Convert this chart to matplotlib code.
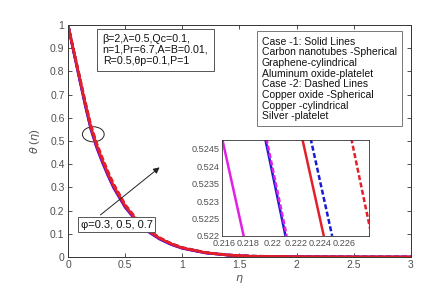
import matplotlib
matplotlib.use("Agg")
import matplotlib.pyplot as plt
from matplotlib.patches import Ellipse
from matplotlib.ticker import FuncFormatter

# ---- data ----
eta = [0, 0.05, 0.1, 0.15, 0.2, 0.25, 0.3, 0.35, 0.4, 0.5, 0.6, 0.7, 0.8, 0.9,
       1.0, 1.2, 1.4, 1.6, 2.0, 2.5, 3.0]

theta_cnt_sph = [1, 0.882, 0.767, 0.653, 0.549, 0.471, 0.407, 0.349, 0.296, 0.213, 0.153,
                 0.109, 0.077, 0.054, 0.037, 0.018, 0.008, 0.003, 0.001, 0.0002, 0]
theta_gr_cyl = [1, 0.884, 0.770, 0.657, 0.553, 0.476, 0.412, 0.353, 0.300, 0.216, 0.156,
                0.111, 0.079, 0.055, 0.038, 0.018, 0.008, 0.003, 0.001, 0.0002, 0]
theta_al_plt = [1, 0.886, 0.775, 0.663, 0.559, 0.482, 0.418, 0.359, 0.305, 0.220, 0.159,
                0.114, 0.081, 0.057, 0.039, 0.019, 0.008, 0.003, 0.001, 0.0002, 0]
theta_cuo_sph = [1, 0.884, 0.771, 0.658, 0.554, 0.477, 0.413, 0.354, 0.301, 0.217, 0.156,
                 0.112, 0.079, 0.055, 0.038, 0.018, 0.008, 0.003, 0.001, 0.0002, 0]
theta_cu_cyl = [1, 0.887, 0.776, 0.665, 0.561, 0.484, 0.420, 0.361, 0.307, 0.221, 0.160,
                0.115, 0.081, 0.057, 0.040, 0.019, 0.009, 0.004, 0.001, 0.0002, 0]
theta_ag_plt = [1, 0.890, 0.782, 0.672, 0.568, 0.492, 0.428, 0.368, 0.314, 0.226, 0.164,
                0.118, 0.084, 0.059, 0.041, 0.020, 0.009, 0.004, 0.001, 0.0002, 0]

# inset (zoomed) segments: eta where each curve crosses theta values below
inset_theta = [0.5248, 0.5220]
inset_cnt_sph = [0.2158, 0.2176]
inset_gr_cyl = [0.2194, 0.2211]
inset_cuo_sph = [0.2195, 0.2212]
inset_al_plt = [0.2225, 0.2243]
inset_cu_cyl = [0.2232, 0.2250]
inset_ag_plt = [0.2266, 0.2283]

x_ticks = [0, 0.5, 1, 1.5, 2, 2.5, 3]
y_ticks = [0, 0.1, 0.2, 0.3, 0.4, 0.5, 0.6, 0.7, 0.8, 0.9, 1]
inset_x_ticks = [0.216, 0.218, 0.22, 0.222, 0.224, 0.226]
inset_y_ticks = [0.522, 0.5225, 0.523, 0.5235, 0.524, 0.5245]

params_text = "β=2,λ=0.5,Qc=0.1,\nn=1,Pr=6.7,A=B=0.01,\nR=0.5,θp=0.1,P=1"
legend_lines = ["Case -1: Solid Lines", "Carbon nanotubes -Spherical",
                "Graphene-cylindrical", "Aluminum oxide-platelet",
                "Case -2: Dashed Lines", "Copper oxide -Spherical",
                "Copper -cylindrical", "Silver -platelet"]
phi_text = "φ=0.3, 0.5, 0.7"

RED = "#e3202a"
BLUE = "#1a1ad0"
MAG = "#e020e6"
GRAY = "#333333"
TXT = "#505050"

plt.rcParams['font.family'] = ['Liberation Sans', 'DejaVu Sans']
fmt = FuncFormatter(lambda v, p: f"{v:g}")

fig = plt.figure(figsize=(4.39, 3.02), dpi=100)
ax = fig.add_axes([0.155, 0.149, 0.781, 0.768])

series = [
    (theta_cnt_sph, MAG, '-'), (theta_cuo_sph, MAG, '--'),
    (theta_gr_cyl, BLUE, '-'), (theta_cu_cyl, BLUE, '--'),
    (theta_ag_plt, RED, '--'), (theta_al_plt, RED, '-'),
]
for th, c, ls in series:
    if ls == '--':
        ax.plot(eta, th, color=c, lw=1.9, dashes=(2, 1))
    else:
        ax.plot(eta, th, color=c, lw=1.9)

ax.set_xlim(0, 3)
ax.set_ylim(0, 1)
ax.set_xticks(x_ticks)
ax.set_yticks(y_ticks)
ax.xaxis.set_major_formatter(fmt)
ax.yaxis.set_major_formatter(fmt)
ax.tick_params(direction='in', top=True, right=True, labelsize=7.5, labelcolor=TXT,
               color=GRAY, length=3, width=0.6, pad=2.5)
for s in ax.spines.values():
    s.set_color(GRAY)
    s.set_linewidth(0.7)
ax.set_xlabel(r"$\eta$", fontsize=8, color=TXT, labelpad=2)
ax.set_ylabel(r"$\theta$ ($\eta$)", fontsize=8, color=TXT, labelpad=6)

ax.text(0.303, 0.962, params_text, fontsize=7.7, color="#111111",
        va='top', ha='left', linespacing=1.12,
        bbox=dict(boxstyle='square,pad=0.5', fc='white', ec='#555555', lw=0.7))

ax.text(1.697, 0.95, "\n".join(legend_lines), fontsize=7.5, color="#111111",
        va='top', ha='left', linespacing=1.08,
        bbox=dict(boxstyle='square,pad=0.5', fc='white', ec='#777777', lw=0.7))

ax.add_patch(Ellipse((0.221, 0.529), 0.19, 0.065, fill=False, ec='#222222', lw=0.7))
ax.annotate("", xy=(0.82, 0.394), xytext=(0.265, 0.174),
            arrowprops=dict(arrowstyle='-|>', color='#222222', lw=0.7, mutation_scale=9))
ax.text(0.111, 0.14, phi_text, fontsize=8, color="#111111", va='center', ha='left',
        bbox=dict(boxstyle='square,pad=0.25', fc='white', ec='#555555', lw=0.7))

# inset
axi = fig.add_axes([0.506, 0.219, 0.335, 0.318])
inset_series = [
    (inset_cnt_sph, MAG, '-'), (inset_gr_cyl, BLUE, '-'), (inset_cuo_sph, MAG, '--'),
    (inset_al_plt, RED, '-'), (inset_cu_cyl, BLUE, '--'), (inset_ag_plt, RED, '--'),
]
for xs, c, ls in inset_series:
    if ls == '--':
        axi.plot(xs, inset_theta, color=c, lw=1.8, dashes=(2, 1))
    else:
        axi.plot(xs, inset_theta, color=c, lw=1.8)
axi.set_xlim(0.2158, 0.2281)
axi.set_ylim(0.522, 0.52476)
axi.set_xticks(inset_x_ticks)
axi.set_yticks(inset_y_ticks)
axi.xaxis.set_major_formatter(fmt)
axi.yaxis.set_major_formatter(fmt)
axi.tick_params(direction='in', length=0, labelsize=6.6, labelcolor=TXT, pad=2)
for s in axi.spines.values():
    s.set_color(GRAY)
    s.set_linewidth(0.6)

fig.savefig("out.png", dpi=100)
